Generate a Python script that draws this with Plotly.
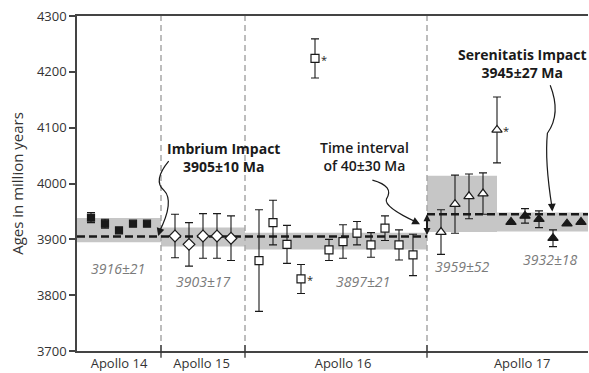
import plotly.graph_objects as go

# ---------------- data ----------------
groups = ["Apollo 14", "Apollo 15", "Apollo 16", "Apollo 17"]
group_label_x = [3.0, 8.9, 19.0, 31.8]
boundaries = [6, 12, 25]

a14_x = [1, 2, 3, 4, 5]
a14_age = [3939, 3928, 3916, 3928, 3928]
a14_err = [9, 8, 0, 0, 0]

a15_x = [7, 8, 9, 10, 11]
a15_age = [3906, 3891, 3906, 3906, 3902]
a15_err = [39, 39, 40, 40, 40]

a16_x = [13, 14, 15, 16, 17, 18, 19, 20, 21, 22, 23, 24]
a16_age = [3862, 3930, 3891, 3829, 4224, 3881, 3896, 3911, 3890, 3920, 3890, 3872]
a16_err = [91, 40, 34, 26, 35, 19, 30, 21, 22, 22, 27, 37]

a17o_x = [26, 27, 28, 29, 30]
a17o_age = [3913, 3963, 3977, 3982, 4096]
a17o_err = [40, 52, 40, 37, 59]

a17f_x = [31, 32, 33, 34, 35, 36]
a17f_age = [3931, 3942, 3936, 3902, 3928, 3931]
a17f_err = [0, 13, 15, 15, 0, 0]

outlier_x = [16, 17, 30]
outlier_age = [3829, 4224, 4096]

band_x0 = [0, 6, 12, 25, 30]
band_x1 = [6, 12, 25, 30, 36.5]
band_lo = [3895, 3887, 3882, 3913, 3914]
band_hi = [3938, 3921, 3912, 4014, 3948]

band_labels = ["3916±21", "3903±17", "3897±21", "3959±52", "3932±18"]
band_label_x = [2.93, 9.0, 20.4, 27.5, 33.8]
band_label_y = [3848, 3824, 3824, 3852, 3863]

imbrium_age = 3905
imbrium_x = [0, 25]
serenitatis_age = 3945
serenitatis_x = [25, 36.5]

yticks = [3700, 3800, 3900, 4000, 4100, 4200, 4300]

FONT = "Open Sans"
BAND = "#c6c6c6"
INK = "#1a1a1a"

fig = go.Figure()

# bands
for x0, x1, lo, hi in zip(band_x0, band_x1, band_lo, band_hi):
    fig.add_shape(type="rect", xref="x", yref="y", x0=x0, x1=x1, y0=lo, y1=hi,
                  fillcolor=BAND, line_width=0, layer="below")

# separators
for b in boundaries:
    fig.add_shape(type="line", xref="x", yref="y", x0=b, x1=b, y0=3700, y1=4300,
                  line=dict(color="#a8a8a8", width=1.5, dash="6px,4px"), layer="below")
    fig.add_shape(type="line", xref="x", yref="paper", x0=b, x1=b, y0=-0.02, y1=0.018,
                  line=dict(color="#333", width=1.3))

# impact lines
fig.add_trace(go.Scatter(x=imbrium_x, y=[imbrium_age] * 2, mode="lines",
                         line=dict(color=INK, width=2.5, dash="8px,4px"), hoverinfo="skip"))
fig.add_trace(go.Scatter(x=serenitatis_x, y=[serenitatis_age] * 2, mode="lines",
                         line=dict(color=INK, width=2.5, dash="8px,4px"), hoverinfo="skip"))

def pts(x, y, e, symbol, size, fill):
    fig.add_trace(go.Scatter(
        x=x, y=y, mode="markers",
        marker=dict(symbol=symbol, size=size, color=fill, line=dict(color=INK, width=1.2)),
        error_y=dict(type="data", array=e, visible=True, color=INK, thickness=1.1, width=4),
    ))

pts(a14_x, a14_age, a14_err, "square", 7, INK)
pts(a15_x, a15_age, a15_err, "diamond", 9, "white")
pts(a16_x, a16_age, a16_err, "square", 8, "white")
pts(a17o_x, a17o_age, a17o_err, "triangle-up", 9, "white")
pts(a17f_x, a17f_age, a17f_err, "triangle-up", 9, INK)

# asterisks
for x, y in zip(outlier_x, outlier_age):
    fig.add_annotation(x=x, y=y, text="*", showarrow=False, xshift=9, yshift=-1,
                       font=dict(family=FONT, size=11, color=INK))

# band labels
for t, x, y in zip(band_labels, band_label_x, band_label_y):
    fig.add_annotation(x=x, y=y, text=t, showarrow=False,
                       font=dict(family=FONT, size=14, color="#7a7a7a", style="italic"))

# text annotations
def txt(x, y, t, weight):
    fig.add_annotation(x=x, y=y, text=t, showarrow=False, align="center",
                       font=dict(family=FONT, size=14, color=INK, weight=weight))

txt(10.47, 4047, "Imbrium Impact<br>3905±10 Ma", 700)
txt(20.57, 4048, "Time interval<br>of 40±30 Ma", 600)
txt(31.8, 4215, "Serenitatis Impact<br>3945±27 Ma", 700)

# curved pointers
curves = [
    "M 6.55 4040 Q 5.4 4005 6.2 3988 Q 7.0 3968 5.85 3912",
    "M 21.1 4006 Q 22.7 3995 22.1 3972 Q 21.9 3958 24.3 3930",
    "M 33.8 4176 Q 34.6 4125 33.6 4090 Q 33.4 4040 33.93 3957",
]
for p in curves:
    fig.add_shape(type="path", path=p, xref="x", yref="y", line=dict(color=INK, width=1.2))

heads = [(5.8, 3906, 5.95, 3918), (24.5, 3927, 24.1, 3932), (33.95, 3950, 33.92, 3962)]
for x, y, ax, ay in heads:
    fig.add_annotation(x=x, y=y, ax=ax, ay=ay, xref="x", yref="y", axref="x", ayref="y",
                       text="", showarrow=True, arrowhead=2, arrowsize=1.3, arrowwidth=1.2,
                       arrowcolor=INK)

# time interval double arrow
fig.add_annotation(x=25, y=serenitatis_age, ax=25, ay=imbrium_age, xref="x", yref="y",
                   axref="x", ayref="y", text="", showarrow=True, arrowhead=2, startarrowhead=2,
                   arrowside="end+start", arrowsize=0.7, startarrowsize=0.7, arrowwidth=2,
                   arrowcolor=INK)

fig.update_layout(
    width=589, height=373,
    margin=dict(l=77, r=1, t=16, b=22, autoexpand=False),
    paper_bgcolor="white", plot_bgcolor="white",
    showlegend=False,
    font=dict(family=FONT, size=13, color="#333"),
    xaxis=dict(range=[0, 36.5], showgrid=False, zeroline=False, automargin=False,
               showline=True, linecolor="#444", linewidth=1.5, mirror=True,
               tickvals=group_label_x, ticktext=groups, ticks="",
               tickfont=dict(family=FONT, size=13, color="#333")),
    yaxis=dict(range=[3700, 4300], showgrid=False, zeroline=False, automargin=False,
               showline=True, linecolor="#444", linewidth=1.5,
               tickvals=yticks, ticks="outside", ticklen=6, tickwidth=1.5, tickcolor="#444",
               tickfont=dict(family=FONT, size=13, color="#333"),
               title=dict(text="Ages in million years", standoff=10,
                          font=dict(family=FONT, size=15, color="#333"))),
)

fig.write_html(
    "out.html",
    config={"displayModeBar": False},
    post_script="document.body.style.margin='0';document.body.style.overflow='hidden';",
)
